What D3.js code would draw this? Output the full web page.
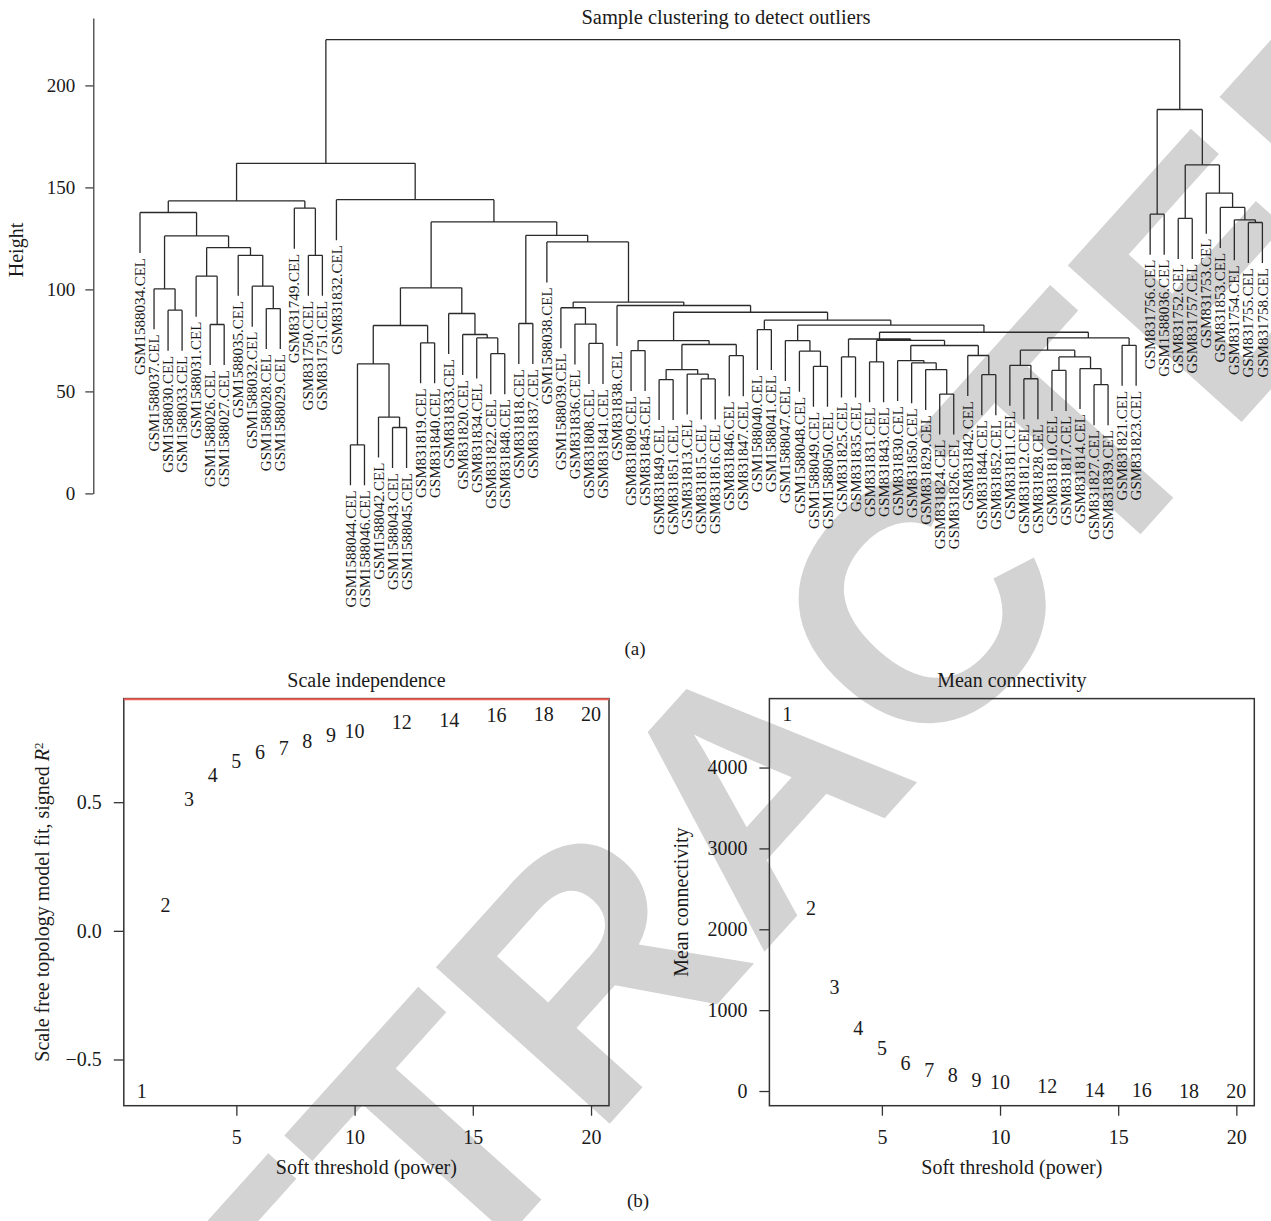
<!DOCTYPE html>
<html><head><meta charset="utf-8">
<script src="https://cdn.jsdelivr.net/npm/d3@7"></script>
<style>
body{margin:0;background:#fff}
svg{display:block}
text{font-family:"Liberation Serif","Times New Roman",serif;fill:#1a1a1a}
</style>
</head><body>
<svg id="c" width="1271" height="1221"></svg>
<script>
// ---------------- DATA ----------------
const sampleLabels = [
"GSM1588034.CEL","GSM1588037.CEL","GSM1588030.CEL","GSM1588033.CEL","GSM1588031.CEL","GSM1588026.CEL","GSM1588027.CEL","GSM1588035.CEL","GSM1588032.CEL","GSM1588028.CEL","GSM1588029.CEL",
"GSM831749.CEL","GSM831750.CEL","GSM831751.CEL","GSM831832.CEL",
"GSM1588044.CEL","GSM1588046.CEL","GSM1588042.CEL","GSM1588043.CEL","GSM1588045.CEL",
"GSM831819.CEL","GSM831840.CEL","GSM831833.CEL","GSM831820.CEL","GSM831834.CEL","GSM831822.CEL","GSM831848.CEL","GSM831818.CEL","GSM831837.CEL",
"GSM1588038.CEL","GSM1588039.CEL",
"GSM831836.CEL","GSM831808.CEL","GSM831841.CEL","GSM831838.CEL","GSM831809.CEL","GSM831845.CEL","GSM831849.CEL","GSM831851.CEL","GSM831813.CEL","GSM831815.CEL","GSM831816.CEL","GSM831846.CEL","GSM831847.CEL",
"GSM1588040.CEL","GSM1588041.CEL","GSM1588047.CEL","GSM1588048.CEL","GSM1588049.CEL","GSM1588050.CEL",
"GSM831825.CEL","GSM831835.CEL","GSM831831.CEL","GSM831843.CEL","GSM831830.CEL","GSM831850.CEL","GSM831829.CEL","GSM831824.CEL","GSM831826.CEL","GSM831842.CEL","GSM831844.CEL","GSM831852.CEL",
"GSM831811.CEL","GSM831812.CEL","GSM831828.CEL","GSM831810.CEL","GSM831817.CEL","GSM831814.CEL","GSM831827.CEL","GSM831839.CEL","GSM831821.CEL","GSM831823.CEL",
"GSM831756.CEL","GSM1588036.CEL","GSM831752.CEL","GSM831757.CEL","GSM831753.CEL","GSM831853.CEL","GSM831754.CEL","GSM831755.CEL","GSM831758.CEL"
];
// merges: [left, right, height]; integers = leaf index into sampleLabels
const clusterA = [[0, [[1, [2,3,89.8], 100.3], [[4, [5,6,82.8], 106.5], [7, [8, [9,10,90.6], 101.6], 116.7], 120.5], 126.2], 137.7], [11, [12,13,116.7], 139.8], 143.4];
const clusterE = [[[[15,16,23.8], [17, [18,19,32.3], 37.4], 63.5], [20,21,73.8], 82.3], [22, [23, [24, [25,26,68.5], 76.2], 77.9], 88.2], 100.8];
const clusterI = [[35,36,70.0], [[[37,38,55.8], [39, [40,41,56.1], 58.5], 60.7], [42,43,67.5], 73.0], 74.9];
const clusterM = [[50,51,66.9], [[52,53,64.5], [[54, [55, [56, [57,58,48.7], 60.7], 64.0], 65.1], [59, [60,61,58.2], 67.6], 72.5], 75.0], 75.7];
const clusterN = [[[62, [63,64,56.2], 62.8], [[65,66,60.3], [67, [68,69,53.3], 61.2], 66.9], 70.2], [70,71,72.6], 76.2];
const clusterJ = [[44,45,80.3], [[46, [47, [48,49,62.3], 69.7], 74.9], [clusterM, clusterN, 79.0], 82.5], 84.9];
const clusterF = [[27,28,83.3], [29, [[30, [31, [32,33,73.5], 83.0], 91.0], [34, [clusterI, clusterJ, 88.8], 92.1], 93.8], 123.3], 126.5];
const clusterC = [14, [clusterE, clusterF, 133.1], 144.0];
const clusterR = [[72,73,136.9], [[74,75,134.8], [76, [77, [78, [79,80,132.8], 134.1], 140.2], 147.2], 161.0], 188.2];
const dendroTree = [[clusterA, clusterC, 161.8], clusterR, 222.4];
const heightTicks = [0, 50, 100, 150, 200];
const hangFraction = 0.1;

const powers = [1,2,3,4,5,6,7,8,9,10,12,14,16,18,20];
const scaleFitR2 = [-0.621,0.100,0.514,0.607,0.660,0.697,0.711,0.736,0.760,0.778,0.810,0.819,0.838,0.844,0.844];
const meanConnectivity = [4666,2262,1292,785,529,348,265,198,141,110,57,12,8,6,5];
const r2Cutoff = 0.90;
const powerTicks = [5,10,15,20];
const r2Ticks = [-0.5, 0, 0.5];
const kTicks = [0,1000,2000,3000,4000];

// ---------------- DRAW ----------------
const svg = d3.select('#c');
const ink = '#1a1a1a';

// watermark
svg.append('text')
  .attr('transform','translate(750,785) rotate(-48)')
  .attr('text-anchor','middle').attr('dy','0.36em')
  .style('font-family','"Liberation Sans",Arial,sans-serif')
  .style('font-weight','bold').style('font-size','340px')
  .style('fill','#d3d3d3')
  .text('RETRACTED');

// ---- dendrogram ----
const leafX = d3.scaleLinear().domain([0, sampleLabels.length-1]).range([140, 1262.4]);
const hY = d3.scaleLinear().domain([0, 233]).range([493.4, 18.1]);

function layout(node){
  if (typeof node === 'number') return {leaf:true, idx:node, x:leafX(node)};
  const l = layout(node[0]), r = layout(node[1]);
  return {leaf:false, l, r, h:node[2], x:(l.x + r.x)/2};
}
const root = layout(dendroTree);
const allH = [];
(function coll(n){ if(!n.leaf){ allH.push(n.h); coll(n.l); coll(n.r);} })(root);
const hang = hangFraction * (d3.max(allH) - d3.min(allH));

const segs = [], leaves = [];
(function walk(n){
  if (n.leaf) return;
  const y = hY(n.h);
  for (const c of [n.l, n.r]) {
    const yc = c.leaf ? hY(n.h - hang) : hY(c.h);
    segs.push(`M${c.x},${y}V${yc}`);
    if (c.leaf) leaves.push({idx:c.idx, x:c.x, y:yc});
    walk(c);
  }
  segs.push(`M${n.l.x},${y}H${n.r.x}`);
})(root);

svg.append('path').attr('d', segs.join('')).attr('fill','none')
  .attr('stroke','#2a2a2a').attr('stroke-width',1.3);

svg.append('g').selectAll('text').data(leaves).join('text')
  .attr('transform', d => `translate(${d.x},${d.y + 5}) rotate(-90)`)
  .attr('text-anchor','end').attr('dy','0.34em')
  .style('font-size','15px')
  .text(d => sampleLabels[d.idx]);

const dAxis = svg.append('g').attr('transform','translate(93.3,0)')
  .call(d3.axisLeft(hY).tickValues(heightTicks).tickSize(8).tickSizeOuter(0).tickPadding(10));
dAxis.attr('font-family', null).attr('font-size', null);
dAxis.selectAll('text').style('font-size','19px').attr('fill', ink);
dAxis.selectAll('line,path').attr('stroke', '#333').attr('stroke-width',1.2);

svg.append('text').attr('transform','translate(16,250) rotate(-90)')
  .attr('text-anchor','middle').attr('dy','0.35em').style('font-size','20px').text('Height');
svg.append('text').attr('x',726).attr('y',17).attr('dy','0.35em')
  .attr('text-anchor','middle').style('font-size','20.5px').text('Sample clustering to detect outliers');
svg.append('text').attr('x',635).attr('y',648).attr('dy','0.35em')
  .attr('text-anchor','middle').style('font-size','19px').text('(a)');
svg.append('text').attr('x',638).attr('y',1200).attr('dy','0.35em')
  .attr('text-anchor','middle').style('font-size','19px').text('(b)');

// ---- soft threshold panels ----
function padExtent(arr){ const e = d3.extent(arr); const p = (e[1]-e[0])*0.04; return [e[0]-p, e[1]+p]; }

function panel(o){
  const x = d3.scaleLinear().domain(padExtent(powers)).range([o.left, o.right]);
  const y = d3.scaleLinear().domain(padExtent(o.values)).range([o.bottom, o.top]);
  const g = svg.append('g');
  const xa = g.append('g').attr('transform',`translate(0,${o.bottom})`)
    .call(d3.axisBottom(x).tickValues(powerTicks).tickSize(10).tickPadding(14).tickSizeOuter(0));
  const ya = g.append('g').attr('transform',`translate(${o.left},0)`)
    .call(d3.axisLeft(y).tickValues(o.ticks).tickFormat(o.fmt).tickSize(10).tickPadding(12).tickSizeOuter(0));
  for (const a of [xa, ya]) {
    a.attr('font-family', null).attr('font-size', null);
    a.select('.domain').remove();
    a.selectAll('line').attr('stroke','#333').attr('stroke-width',1.3);
    a.selectAll('text').style('font-size','20px').attr('fill', ink);
  }
  g.append('rect').attr('x',o.left).attr('y',o.top)
    .attr('width',o.right-o.left).attr('height',o.bottom-o.top)
    .attr('fill','none').attr('stroke','#333').attr('stroke-width',1.5);
  if (o.cutoff !== undefined) {
    g.append('line').attr('x1',o.left).attr('x2',o.right)
      .attr('y1',y(o.cutoff)).attr('y2',y(o.cutoff))
      .attr('stroke','#f25c54').attr('stroke-width',2);
  }
  g.append('g').selectAll('text').data(powers).join('text')
    .attr('x', (p) => x(p)).attr('y', (p,i) => y(o.values[i]))
    .attr('dy','0.35em').attr('text-anchor','middle')
    .style('font-size','20px').text(p => p);
  const cx = (o.left + o.right)/2;
  g.append('text').attr('x',cx).attr('y',680).attr('dy','0.35em')
    .attr('text-anchor','middle').style('font-size','20px').text(o.title);
  g.append('text').attr('x',cx).attr('y',1167).attr('dy','0.35em')
    .attr('text-anchor','middle').style('font-size','20px').text('Soft threshold (power)');
  const yl = g.append('text')
    .attr('transform',`translate(${o.ylabX},${(o.top+o.bottom)/2}) rotate(-90)`)
    .attr('text-anchor','middle').attr('dy','0.35em').style('font-size','20px');
  o.ylab(yl);
}

panel({left:123.8, right:609, top:698.6, bottom:1105.7, values:scaleFitR2, ticks:r2Ticks,
  fmt:d3.format('.1f'), cutoff:r2Cutoff, title:'Scale independence', ylabX:41.5,
  ylab: t => { t.append('tspan').text('Scale free topology model fit, signed ');
               t.append('tspan').style('font-style','italic').text('R');
               t.append('tspan').attr('dy','-0.45em').style('font-size','13px').text('2'); }});
panel({left:769.4, right:1254.3, top:698.6, bottom:1105.7, values:meanConnectivity, ticks:kTicks,
  fmt:d3.format('d'), title:'Mean connectivity', ylabX:681,
  ylab: t => t.text('Mean connectivity')});
</script>
</body></html>
